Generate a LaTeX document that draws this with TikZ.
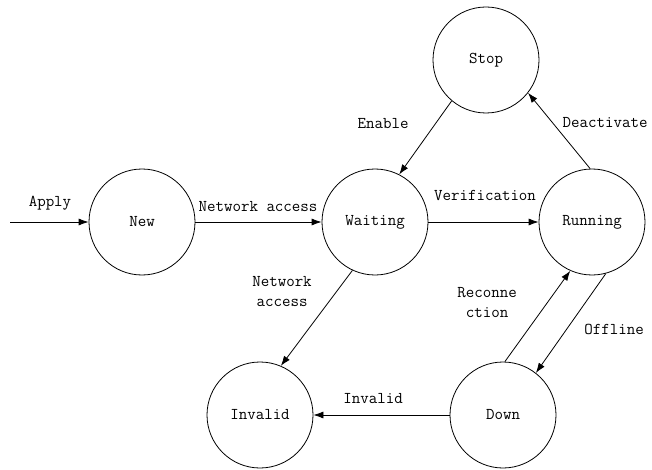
\documentclass[tikz,border=0pt]{standalone}
\usepackage{fontspec}
\usetikzlibrary{arrows.meta, positioning}

\tikzset{
	state/.style={circle, draw, line width=0.8pt, minimum size=106pt, inner sep=0pt, font=\ttfamily\fontsize{16.5}{18}\selectfont},
	trans/.style={-{Latex[length=10pt,width=7pt]}, line width=0.8pt},
	lbl/.style={font=\ttfamily\fontsize{16.5}{20}\selectfont, inner sep=1pt, align=center}
}

\begin{document}
\begin{tikzpicture}[x=1pt, y=-1pt]
	
	% Frame
	\useasboundingbox (0,0) rectangle (652,470);
	
	% States
	\node[state] (new) at (142,222) {New};
	\node[state] (waiting) at (375,222) {Waiting};
	\node[state] (stop) at (486,60) {Stop};
	\node[state] (running) at (592,222) {Running};
	\node[state] (invalid) at (260,415) {Invalid};
	\node[state] (down) at (503,415) {Down};
	\coordinate (start) at (10,222);
	
	% Transitions
	\draw[trans] (start) -- (new);
	\draw[trans] (new) -- (waiting);
	\draw[trans] (waiting) -- (running);
	\draw[trans] (stop.230) -- (waiting.63);
	\draw[trans] (running.92) -- (stop.-38);
	\draw[trans] (waiting.245) -- (invalid.67);
	\draw[trans] (down.88) -- (running.246);
	\draw[trans] (running.285) -- (down.52);
	\draw[trans] (down) -- (invalid);
	
	% Labels
	\node[lbl] (lapply) at (50,203) {Apply};
	\node[lbl] (laccess) at (258,207) {Network access};
	\node[lbl] (lenable) at (383,124) {Enable};
	\node[lbl] (lverif) at (485,195) {Verification};
	\node[lbl] (ldeact) at (605,123) {Deactivate};
	\node[lbl] (lnet) at (282,292) {Network\\access};
	\node[lbl] (lreconn) at (487,303) {Reconne\\ction};
	\node[lbl] (loffline) at (614,329) {Offline};
	\node[lbl] (linvalid) at (373,399) {Invalid};
	
\end{tikzpicture}
\end{document}
